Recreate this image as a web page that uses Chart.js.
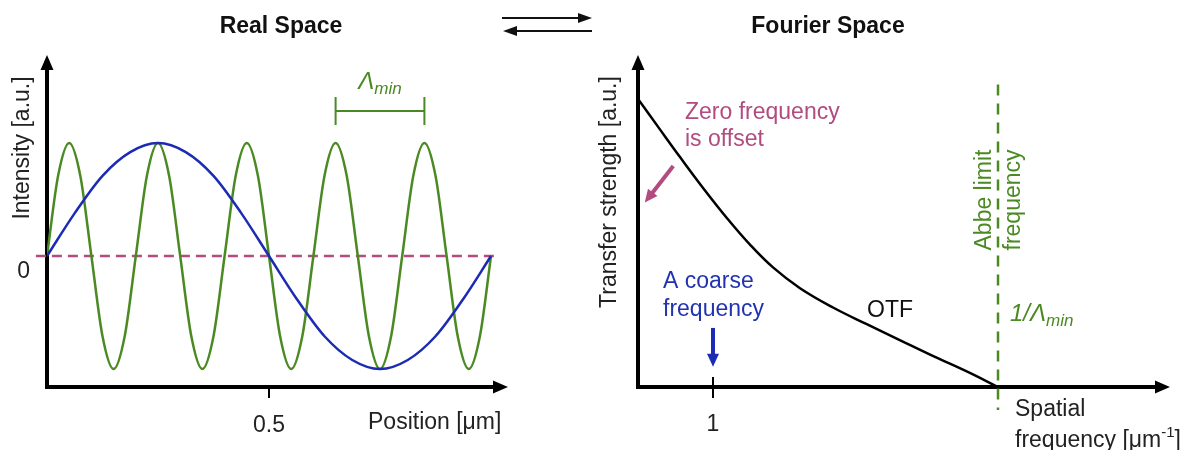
<!DOCTYPE html>
<html>
<head>
  <title>Real Space / Fourier Space</title>
  <script src="https://cdn.jsdelivr.net/npm/chart.js@4.4.1/dist/chart.umd.min.js"></script>
  <style>
    body { margin: 0; background: #fff; }
    #real { position: absolute; left: 0; top: 0; }
    #fourier { position: absolute; left: 590px; top: 0; }
  </style>
</head>
<body>
  <canvas id="real" width="600" height="450"></canvas>
  <canvas id="fourier" width="602" height="450"></canvas>
  <script>
    // Real space: position [um] and intensity [a.u.]
    var greenPos = [0, 0.025, 0.05, 0.075, 0.1, 0.125, 0.15, 0.175, 0.2, 0.225, 0.25, 0.275, 0.3, 0.325,
      0.35, 0.375, 0.4, 0.425, 0.45, 0.475, 0.5, 0.525, 0.55, 0.575, 0.6, 0.625, 0.65, 0.675, 0.7,
      0.725, 0.75, 0.775, 0.8, 0.825, 0.85, 0.875, 0.9, 0.925, 0.95, 0.975, 1];
    var greenVal = [0, 0.71, 1, 0.71, 0, -0.71, -1, -0.71, 0, 0.71, 1, 0.71, 0, -0.71,
      -1, -0.71, 0, 0.71, 1, 0.71, 0, -0.71, -1, -0.71, 0, 0.71, 1, 0.71, 0,
      -0.71, -1, -0.71, 0, 0.71, 1, 0.71, 0, -0.71, -1, -0.71, 0];
    var bluePos = [0, 0.0625, 0.125, 0.1875, 0.25, 0.3125, 0.375, 0.4375, 0.5,
      0.5625, 0.625, 0.6875, 0.75, 0.8125, 0.875, 0.9375, 1];
    var blueVal = [0, 0.38, 0.71, 0.92, 1, 0.92, 0.71, 0.38, 0, -0.38, -0.71, -0.92, -1, -0.92, -0.71, -0.38, 0];
    var offsetPos = [-0.025, 1.01];
    var offsetVal = [0, 0];
    var realTicks = [0.5];
    var realZero = [0];

    // Fourier space: spatial frequency [um^-1] and transfer strength [a.u.]
    var otfFreq = [0, 0.29, 0.56, 0.87, 1.19, 1.49, 1.8, 2.16, 2.6, 3.05, 3.49, 3.93, 4.39, 4.8];
    var otfVal = [1, 0.895, 0.798, 0.69, 0.585, 0.495, 0.415, 0.343, 0.276, 0.218, 0.163, 0.108, 0.053, 0];
    var abbeFreq = [4.8, 4.8];
    var abbeVal = [1.05, -0.08];
    var fourierTicks = [1];

    var GREEN = '#4b8a23';
    var BLUE = '#1c2bb3';
    var PINK = '#b24b80';
    var FONT = '"Liberation Sans", Arial, sans-serif';

    Chart.defaults.font.family = FONT;
    Chart.defaults.font.size = 23;
    Chart.defaults.color = '#222';

    function pts(xs, ys) {
      return xs.map(function (x, i) { return { x: x, y: ys[i] }; });
    }

    function head(ctx, x, y, ang, len, wid, color) {
      ctx.save();
      ctx.translate(x, y);
      ctx.rotate(ang);
      ctx.beginPath();
      ctx.moveTo(0, 0);
      ctx.lineTo(-len, wid / 2);
      ctx.lineTo(-len, -wid / 2);
      ctx.closePath();
      ctx.fillStyle = color;
      ctx.fill();
      ctx.restore();
    }

    function arrow(ctx, x1, y1, x2, y2, lw, len, wid, color) {
      var a = Math.atan2(y2 - y1, x2 - x1);
      ctx.save();
      ctx.strokeStyle = color;
      ctx.lineWidth = lw;
      ctx.beginPath();
      ctx.moveTo(x1, y1);
      ctx.lineTo(x2 - Math.cos(a) * len * 0.7, y2 - Math.sin(a) * len * 0.7);
      ctx.stroke();
      ctx.restore();
      head(ctx, x2, y2, a, len, wid, color);
    }

    function label(ctx, str, x, y, color, font, align, rot) {
      ctx.save();
      ctx.translate(x, y);
      if (rot) ctx.rotate(rot);
      ctx.font = font || ('23px ' + FONT);
      ctx.fillStyle = color || '#222';
      ctx.textAlign = align || 'left';
      ctx.textBaseline = 'middle';
      ctx.fillText(str, 0, 0);
      ctx.restore();
    }

    // italic symbol with subscript, e.g. Λ + min
    function subLabel(ctx, main, sub, x, y, color, align) {
      ctx.save();
      ctx.fillStyle = color;
      ctx.textBaseline = 'middle';
      ctx.font = 'italic 24px ' + FONT;
      var w1 = ctx.measureText(main).width;
      ctx.font = 'italic 17px ' + FONT;
      var w2 = ctx.measureText(sub).width;
      var x0 = align === 'center' ? x - (w1 + w2) / 2 : x;
      ctx.textAlign = 'left';
      ctx.font = 'italic 24px ' + FONT;
      ctx.fillText(main, x0, y);
      ctx.font = 'italic 17px ' + FONT;
      ctx.fillText(sub, x0 + w1, y + 7);
      ctx.restore();
    }

    function axisArrows(chart) {
      var ctx = chart.ctx, a = chart.chartArea;
      head(ctx, a.right + 7, a.bottom, 0, 15, 13, '#000');
      head(ctx, a.left, a.top - 7, -Math.PI / 2, 15, 13, '#000');
    }

    var realNotes = {
      id: 'realNotes',
      afterDraw: function (chart) {
        var ctx = chart.ctx, a = chart.chartArea;
        var xs = chart.scales.x, ys = chart.scales.y;
        axisArrows(chart);
        label(ctx, 'Real Space', 281, 27, '#111', 'bold 23px ' + FONT, 'center');
        label(ctx, 'Intensity [a.u.]', 23, 148, '#222', null, 'center', -Math.PI / 2);
        label(ctx, 'Position [\u03bcm]', 368, 423, '#222');

        // Λmin bracket over one green period
        var bx1 = xs.getPixelForValue(0.65), bx2 = xs.getPixelForValue(0.85), by = 111;
        ctx.save();
        ctx.strokeStyle = GREEN;
        ctx.lineWidth = 2;
        ctx.beginPath();
        ctx.moveTo(bx1, by); ctx.lineTo(bx2, by);
        ctx.moveTo(bx1, by - 14); ctx.lineTo(bx1, by + 14);
        ctx.moveTo(bx2, by - 14); ctx.lineTo(bx2, by + 14);
        ctx.stroke();
        ctx.restore();
        subLabel(ctx, '\u039b', 'min', (bx1 + bx2) / 2, 82, GREEN, 'center');

        // exchange arrows between the two panels
        arrow(ctx, 502, 18, 592, 18, 2, 14, 10, '#111');
        arrow(ctx, 592, 31, 503, 31, 2, 14, 10, '#111');
      }
    };

    var fourierNotes = {
      id: 'fourierNotes',
      afterDraw: function (chart) {
        var ctx = chart.ctx, a = chart.chartArea;
        var xs = chart.scales.x, ys = chart.scales.y;
        axisArrows(chart);
        label(ctx, 'Fourier Space', 238, 27, '#111', 'bold 23px ' + FONT, 'center');
        label(ctx, 'Transfer strength [a.u.]', 20, 192, '#222', null, 'center', -Math.PI / 2);

        // upper stub of tick at 1
        var t1 = xs.getPixelForValue(1);
        ctx.save();
        ctx.strokeStyle = '#000';
        ctx.lineWidth = 2;
        ctx.beginPath();
        ctx.moveTo(t1, a.bottom); ctx.lineTo(t1, a.bottom - 10);
        ctx.stroke();
        ctx.restore();

        label(ctx, 'Spatial', 425, 410, '#222');
        ctx.save();
        ctx.font = '23px ' + FONT;
        ctx.fillStyle = '#222';
        ctx.textBaseline = 'middle';
        var s1 = 'frequency [\u03bcm';
        ctx.fillText(s1, 425, 441);
        var w = ctx.measureText(s1).width;
        ctx.font = '15px ' + FONT;
        ctx.fillText('-1', 425 + w, 433);
        var w2 = ctx.measureText('-1').width;
        ctx.font = '23px ' + FONT;
        ctx.fillText(']', 425 + w + w2, 441);
        ctx.restore();

        // zero frequency note
        label(ctx, 'Zero frequency', 95, 113, PINK);
        label(ctx, 'is offset', 95, 140, PINK);
        arrow(ctx, xs.getPixelForValue(0.47), ys.getPixelForValue(0.767),
          xs.getPixelForValue(0.09), ys.getPixelForValue(0.64), 4, 13, 12, PINK);

        // coarse frequency note
        label(ctx, 'A coarse', 73, 282, '#2233b0');
        label(ctx, 'frequency', 73, 310, '#2233b0');
        arrow(ctx, t1, ys.getPixelForValue(0.205), t1, ys.getPixelForValue(0.07), 4, 13, 12, BLUE);

        label(ctx, 'OTF', 300, 311, '#111', null, 'center');

        // Abbe limit
        var ax = xs.getPixelForValue(4.8);
        label(ctx, 'Abbe limit', ax - 13, 200, GREEN, null, 'center', -Math.PI / 2);
        label(ctx, 'frequency', ax + 16, 200, GREEN, null, 'center', -Math.PI / 2);
        subLabel(ctx, '1/\u039b', 'min', ax + 12, 314, GREEN, 'left');
      }
    };

    new Chart(document.getElementById('real'), {
      type: 'line',
      data: {
        datasets: [
          { data: pts(bluePos, blueVal), borderColor: BLUE, borderWidth: 2.5, pointRadius: 0, cubicInterpolationMode: 'monotone' },
          { data: pts(greenPos, greenVal), borderColor: GREEN, borderWidth: 2.5, pointRadius: 0, cubicInterpolationMode: 'monotone' },
          { data: pts(offsetPos, offsetVal), borderColor: PINK, borderWidth: 2.5, borderDash: [10, 6], pointRadius: 0, clip: false }
        ]
      },
      options: {
        responsive: false,
        animation: false,
        events: [],
        layout: { padding: { left: 0, top: 62, right: 99, bottom: 0 } },
        plugins: { legend: { display: false }, tooltip: { enabled: false } },
        scales: {
          x: {
            type: 'linear', min: 0, max: 1.0225,
            afterFit: function (s) { s.height = 63; },
            afterBuildTicks: function (s) { s.ticks = realTicks.map(function (v) { return { value: v }; }); },
            grid: { drawOnChartArea: false, drawTicks: true, tickLength: 11, color: '#000', lineWidth: 2 },
            border: { color: '#000', width: 4 },
            ticks: { padding: 14, color: '#222', maxRotation: 0 }
          },
          y: {
            min: -1.159, max: 1.717,
            afterFit: function (s) { s.width = 47; },
            afterBuildTicks: function (s) { s.ticks = realZero.map(function (v) { return { value: v }; }); },
            grid: { display: false, drawTicks: false },
            border: { color: '#000', width: 4 },
            ticks: { padding: 17, labelOffset: 16, color: '#222' }
          }
        }
      },
      plugins: [realNotes]
    });

    new Chart(document.getElementById('fourier'), {
      type: 'line',
      data: {
        datasets: [
          { data: pts(otfFreq, otfVal), borderColor: '#000', borderWidth: 2.5, pointRadius: 0, tension: 0.4 },
          { data: pts(abbeFreq, abbeVal), borderColor: GREEN, borderWidth: 2.5, borderDash: [11, 8], pointRadius: 0, clip: false }
        ]
      },
      options: {
        responsive: false,
        animation: false,
        events: [],
        layout: { padding: { left: 0, top: 62, right: 29, bottom: 0 } },
        plugins: { legend: { display: false }, tooltip: { enabled: false } },
        scales: {
          x: {
            type: 'linear', min: 0, max: 7,
            afterFit: function (s) { s.height = 63; },
            afterBuildTicks: function (s) { s.ticks = fourierTicks.map(function (v) { return { value: v }; }); },
            grid: { drawOnChartArea: false, drawTicks: true, tickLength: 11, color: '#000', lineWidth: 2 },
            border: { color: '#000', width: 4 },
            ticks: { padding: 13, color: '#222', maxRotation: 0 }
          },
          y: {
            min: 0, max: 1.128,
            afterFit: function (s) { s.width = 48; },
            grid: { display: false, drawTicks: false },
            border: { color: '#000', width: 4 },
            ticks: { display: false }
          }
        }
      },
      plugins: [fourierNotes]
    });
  </script>
</body>
</html>
